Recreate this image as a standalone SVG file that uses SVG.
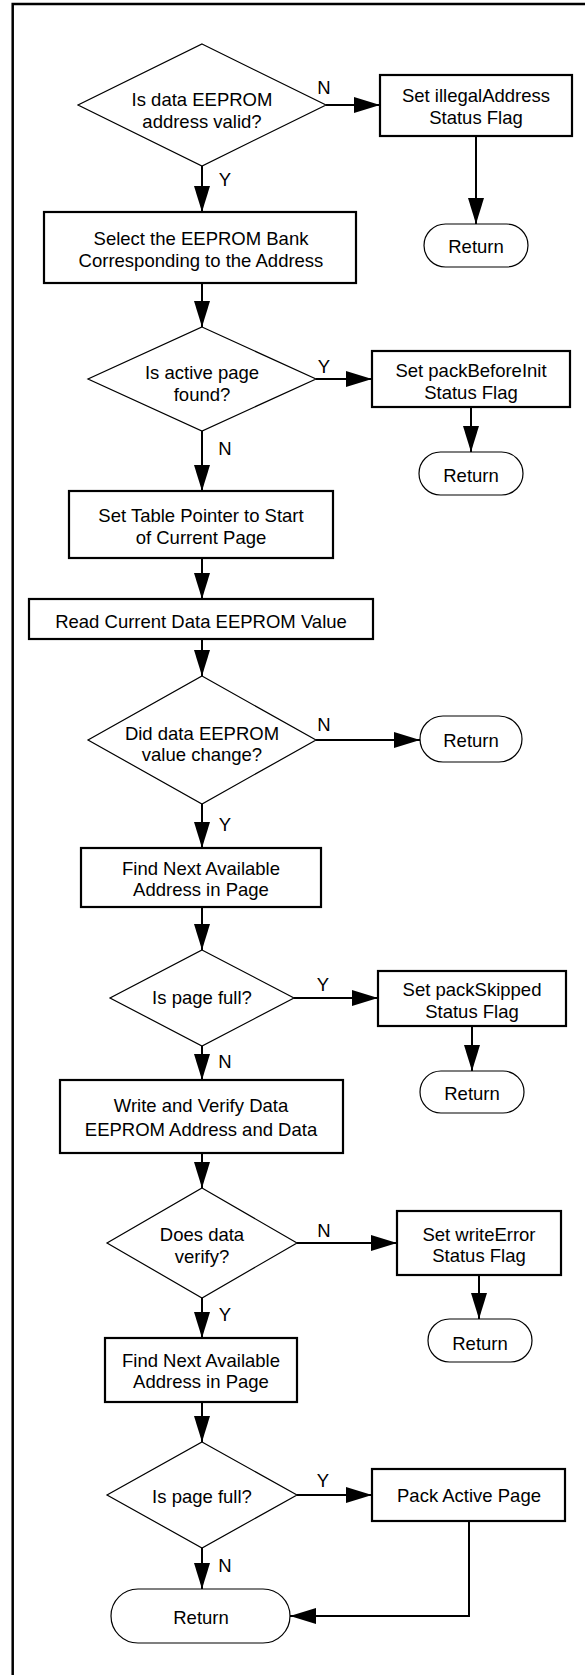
<svg xmlns="http://www.w3.org/2000/svg" width="585" height="1675" viewBox="0 0 585 1675">
<defs>
<marker id="ah" markerUnits="userSpaceOnUse" markerWidth="26" markerHeight="16" refX="26" refY="8" orient="auto">
<path d="M0,0 L26,8 L0,16 z" fill="#000"/>
</marker>
<style>
text{font-family:"Liberation Sans",Arial,sans-serif;font-size:18.5px;fill:#000;text-anchor:middle}
.box{fill:#fff;stroke:#000;stroke-width:2.2}
.dia{fill:#fff;stroke:#000;stroke-width:1.2}
.ret{fill:#fff;stroke:#000;stroke-width:1.2}
.c{fill:none;stroke:#000;stroke-width:2;marker-end:url(#ah)}
.frame{fill:none;stroke:#000;stroke-width:2.5}
</style>
</defs>
<rect width="585" height="1675" fill="#fff"/>
<path class="frame" d="M12.7,1675 V4 H585"/>

<g id="connectors">
<path class="c" d="M326,105 H380"/>
<path class="c" d="M202,166 V212"/>
<path class="c" d="M476,136 V224"/>
<path class="c" d="M202,283 V327"/>
<path class="c" d="M316,379 H372"/>
<path class="c" d="M471,407 V452"/>
<path class="c" d="M202,431 V491"/>
<path class="c" d="M202,558 V599"/>
<path class="c" d="M202,639 V676"/>
<path class="c" d="M316,740 H420"/>
<path class="c" d="M202,804 V848"/>
<path class="c" d="M202,907 V950"/>
<path class="c" d="M294,998 H378"/>
<path class="c" d="M472,1026 V1071"/>
<path class="c" d="M202,1046 V1080"/>
<path class="c" d="M202,1153 V1188"/>
<path class="c" d="M297,1243 H397"/>
<path class="c" d="M479,1275 V1319"/>
<path class="c" d="M202,1298 V1338"/>
<path class="c" d="M202,1402 V1442"/>
<path class="c" d="M297,1495 H372"/>
<path class="c" d="M202,1548 V1589"/>
<path class="c" d="M469,1521 V1616 H290"/>
<text x="324" y="93.5">N</text>
<text x="225" y="185.5">Y</text>
<text x="324" y="372.5">Y</text>
<text x="225" y="454.5">N</text>
<text x="324" y="730.5">N</text>
<text x="225" y="830.5">Y</text>
<text x="323" y="990.5">Y</text>
<text x="225" y="1067.5">N</text>
<text x="324" y="1236.5">N</text>
<text x="225" y="1320.5">Y</text>
<text x="323" y="1486.5">Y</text>
<text x="225" y="1571.5">N</text>
</g>

<g id="d1">
<polygon class="dia" points="202,44 326,105 202,166 78,105"/>
<text x="202" y="106">Is data EEPROM</text>
<text x="202" y="128">address valid?</text>
</g>
<g id="b-illegal">
<rect class="box" x="380" y="75" width="192" height="61"/>
<text x="476" y="102">Set illegalAddress</text>
<text x="476" y="124">Status Flag</text>
</g>
<g id="r1">
<rect class="ret" x="424" y="224" width="104" height="43" rx="21.5"/>
<text x="476" y="253">Return</text>
</g>
<g id="b-select">
<rect class="box" x="44" y="212" width="312" height="71"/>
<text x="201" y="245">Select the EEPROM Bank</text>
<text x="201" y="267">Corresponding to the Address</text>
</g>
<g id="d2">
<polygon class="dia" points="202,327 316,379 202,431 88,379"/>
<text x="202" y="378.5">Is active page</text>
<text x="202" y="400.5">found?</text>
</g>
<g id="b-pbi">
<rect class="box" x="372" y="351" width="198" height="56"/>
<text x="471" y="377">Set packBeforeInit</text>
<text x="471" y="398.5">Status Flag</text>
</g>
<g id="r2">
<rect class="ret" x="419" y="452" width="104" height="43" rx="21.5"/>
<text x="471" y="481.5">Return</text>
</g>
<g id="b-table">
<rect class="box" x="69" y="491" width="264" height="67"/>
<text x="201" y="522">Set Table Pointer to Start</text>
<text x="201" y="544">of Current Page</text>
</g>
<g id="b-read">
<rect class="box" x="29" y="599" width="344" height="40"/>
<text x="201" y="627.5">Read Current Data EEPROM Value</text>
</g>
<g id="d3">
<polygon class="dia" points="202,676 316,740 202,804 88,740"/>
<text x="202" y="739.5">Did data EEPROM</text>
<text x="202" y="760.5">value change?</text>
</g>
<g id="r3">
<rect class="ret" x="420" y="716" width="102" height="46" rx="23"/>
<text x="471" y="747">Return</text>
</g>
<g id="b-find1">
<rect class="box" x="81" y="848" width="240" height="59"/>
<text x="201" y="875">Find Next Available</text>
<text x="201" y="896">Address in Page</text>
</g>
<g id="d4">
<polygon class="dia" points="202,950 294,998 202,1046 110,998"/>
<text x="202" y="1004">Is page full?</text>
</g>
<g id="b-pskip">
<rect class="box" x="378" y="971" width="188" height="55"/>
<text x="472" y="996">Set packSkipped</text>
<text x="472" y="1018">Status Flag</text>
</g>
<g id="r4">
<rect class="ret" x="420" y="1071" width="104" height="42" rx="21"/>
<text x="472" y="1100">Return</text>
</g>
<g id="b-write">
<rect class="box" x="60" y="1080" width="283" height="73"/>
<text x="201" y="1112">Write and Verify Data</text>
<text x="201" y="1135.5">EEPROM Address and Data</text>
</g>
<g id="d5">
<polygon class="dia" points="202,1188 297,1243 202,1298 107,1243"/>
<text x="202" y="1241">Does data</text>
<text x="202" y="1263">verify?</text>
</g>
<g id="b-werr">
<rect class="box" x="397" y="1211" width="164" height="64"/>
<text x="479" y="1240.5">Set writeError</text>
<text x="479" y="1262">Status Flag</text>
</g>
<g id="r5">
<rect class="ret" x="428" y="1319" width="104" height="43" rx="21.5"/>
<text x="480" y="1349.5">Return</text>
</g>
<g id="b-find2">
<rect class="box" x="105" y="1338" width="192" height="64"/>
<text x="201" y="1367">Find Next Available</text>
<text x="201" y="1388">Address in Page</text>
</g>
<g id="d6">
<polygon class="dia" points="202,1442 297,1495 202,1548 107,1495"/>
<text x="202" y="1503">Is page full?</text>
</g>
<g id="b-pack">
<rect class="box" x="372" y="1469" width="193" height="52"/>
<text x="469" y="1502">Pack Active Page</text>
</g>
<g id="r6">
<rect class="ret" x="111" y="1589" width="179" height="54" rx="27"/>
<text x="201" y="1623.5">Return</text>
</g>
</svg>
